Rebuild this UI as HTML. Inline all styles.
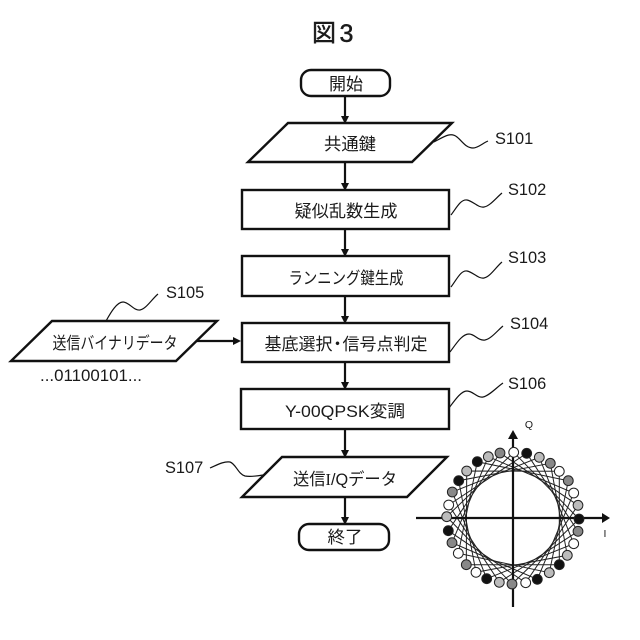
<!DOCTYPE html>
<html><head><meta charset="utf-8"><style>
html,body{margin:0;padding:0;background:#fff}
svg{display:block}
text{font-family:"Liberation Sans","Noto Sans CJK JP",sans-serif;fill:#1a1a1a}
.s{fill:#fff;stroke:#111;stroke-width:2.4;stroke-linejoin:miter}
.l{fill:none;stroke:#111;stroke-width:1.2}
.a{stroke:#111;stroke-width:2.2}
.c{font-size:17px;text-anchor:middle}
.n{font-size:16.4px}
.q{fill:none;stroke:#222;stroke-width:1}
.d{stroke:#222;stroke-width:1}
.w{fill:#fff}.g{fill:#888}.h{fill:#bbb}.b{fill:#111}
</style></head><body>
<svg width="640" height="640" viewBox="0 0 640 640" xmlns="http://www.w3.org/2000/svg">
<text x="312" y="41" font-size="24" stroke="#1a1a1a" stroke-width="0.5">図<tspan x="339.5" y="42" font-size="25">3</tspan></text>

<!-- connectors -->
<g class="a">
<line x1="345" y1="96" x2="345" y2="118"/>
<line x1="345" y1="162" x2="345" y2="185"/>
<line x1="345" y1="229" x2="345" y2="251"/>
<line x1="345" y1="296" x2="345" y2="318"/>
<line x1="345" y1="362" x2="345" y2="384"/>
<line x1="345" y1="429" x2="345" y2="452"/>
<line x1="345" y1="497" x2="345" y2="519"/>
<line x1="197" y1="341" x2="235" y2="341"/>
</g>
<g fill="#111">
<polygon points="341,116 349,116 345,124"/>
<polygon points="341,183 349,183 345,191"/>
<polygon points="341,249 349,249 345,257"/>
<polygon points="341,316 349,316 345,324"/>
<polygon points="341,382 349,382 345,390"/>
<polygon points="341,450 349,450 345,458"/>
<polygon points="341,517 349,517 345,525"/>
<polygon points="233,337 233,345 241,341"/>
</g>

<!-- nodes -->
<rect class="s" x="301" y="70" width="89" height="26" rx="10"/>
<polygon class="s" points="288,123 452,123 412,162 248,162"/>
<rect class="s" x="242" y="190" width="207" height="39"/>
<rect class="s" x="242" y="256" width="207" height="40"/>
<rect class="s" x="242" y="323" width="207" height="39"/>
<rect class="s" x="241" y="389" width="208" height="40"/>
<polygon class="s" points="282,457 447,457 407,497 242,497"/>
<rect class="s" x="299" y="524" width="90" height="26" rx="10"/>
<polygon class="s" points="52,321 217,321 176,361 11,361"/>

<!-- node labels -->
<text class="c" x="346" y="90" textLength="34" lengthAdjust="spacingAndGlyphs">開始</text>
<text class="c" x="350" y="150" textLength="52" lengthAdjust="spacingAndGlyphs">共通鍵</text>
<text class="c" x="346" y="217" textLength="103" lengthAdjust="spacingAndGlyphs">疑似乱数生成</text>
<text class="c" x="346" y="284" textLength="115" lengthAdjust="spacingAndGlyphs">ランニング鍵生成</text>
<text class="c" x="346" y="350">基底選択<tspan dx="-3.5">・</tspan><tspan dx="-3.5">信号点判定</tspan></text>
<text class="c" x="345" y="417" textLength="120" lengthAdjust="spacingAndGlyphs">Y-00QPSK変調</text>
<text class="c" x="345" y="485" textLength="104" lengthAdjust="spacingAndGlyphs">送信<tspan font-family="Liberation Serif">I</tspan>/Qデータ</text>
<text class="c" x="345" y="543" textLength="35" lengthAdjust="spacingAndGlyphs">終了</text>
<text class="c" x="115" y="349" textLength="125" lengthAdjust="spacingAndGlyphs">送信バイナリデータ</text>
<text class="n" x="40" y="381" textLength="102" lengthAdjust="spacingAndGlyphs">...01100101...</text>

<!-- step labels and leaders -->
<text class="n" x="495" y="144">S101</text>
<text class="n" x="508" y="195">S102</text>
<text class="n" x="508" y="263">S103</text>
<text class="n" x="510" y="329">S104</text>
<text class="n" x="166" y="298">S105</text>
<text class="n" x="508" y="389">S106</text>
<text class="n" x="165" y="473">S107</text>
<path class="l" d="M434,142 C445,136 451,132 457,137 C463,142 466,148 473,148 C478,148 483,143 488,141"/>
<path class="l" d="M451,215 C457,207 461,199 467,200 C473,201 478,208 484,207 C490,206 496,198 502,193"/>
<path class="l" d="M451,287 C457,279 461,270 467,271 C473,272 478,279 484,278 C490,277 496,267 502,262"/>
<path class="l" d="M450,352 C456,344 462,334 469,334 C475,334 478,341 485,340 C491,339 498,330 503,326"/>
<path class="l" d="M449,408 C455,400 461,391 467,391 C473,391 477,398 483,397 C489,396 497,387 503,383"/>
<path class="l" d="M106,321 C111,312 117,302 123,302 C129,302 134,311 140,310 C146,309 152,299 158,294"/>
<path class="l" d="M210,468 C217,465 224,461 230,462 C236,464 238,474 245,476 C250,477 257,476 263,475"/>

<!-- constellation chords: eight squares linking every 8th point -->
<g class="q">
<polygon points="513.7,452.3 579,519 512,584 446.7,516.7"/>
<polygon points="526.7,453.3 578,531.3 499.3,582.3 448.7,505"/>
<polygon points="539.3,457.3 573.7,543.7 486.7,578.7 452.3,492"/>
<polygon points="550.3,463.3 567.3,555.3 476,572.3 458.7,480.7"/>
<polygon points="559.3,471.3 559.3,564.7 466.3,564.7 466.7,471"/>
<polygon points="568.3,480.7 549.3,572.7 458.3,553.3 477.3,461.7"/>
<polygon points="573.7,493 537.3,579.3 452,542.7 488.3,456.7"/>
<polygon points="578,505.3 525.7,582.7 448.3,530.7 500,453"/>
</g>

<!-- axes -->
<g class="a">
<line x1="416" y1="518" x2="604" y2="518"/>
<line x1="513" y1="607" x2="513" y2="436"/>
</g>
<polygon fill="#111" points="602,513 610,518 602,523"/>
<polygon fill="#111" points="508,439 518,439 513,430"/>
<text x="529" y="428" font-size="10.5" text-anchor="middle">Q</text>
<text x="605" y="537" font-size="10.5" text-anchor="middle">I</text>

<!-- constellation points -->
<g class="d">
<circle class="w" cx="513.7" cy="452.3" r="4.9"/>
<circle class="b" cx="526.7" cy="453.3" r="4.9"/>
<circle class="h" cx="539.3" cy="457.3" r="4.9"/>
<circle class="g" cx="550.3" cy="463.3" r="4.9"/>
<circle class="w" cx="559.3" cy="471.3" r="4.9"/>
<circle class="g" cx="568.3" cy="480.7" r="4.9"/>
<circle class="w" cx="573.7" cy="493" r="4.9"/>
<circle class="h" cx="578" cy="505.3" r="4.9"/>
<circle class="b" cx="579" cy="519" r="4.9"/>
<circle class="g" cx="578" cy="531.3" r="4.9"/>
<circle class="w" cx="573.7" cy="543.7" r="4.9"/>
<circle class="h" cx="567.3" cy="555.3" r="4.9"/>
<circle class="b" cx="559.3" cy="564.7" r="4.9"/>
<circle class="h" cx="549.3" cy="572.7" r="4.9"/>
<circle class="b" cx="537.3" cy="579.3" r="4.9"/>
<circle class="w" cx="525.7" cy="582.7" r="4.9"/>
<circle class="g" cx="512" cy="584" r="4.9"/>
<circle class="h" cx="499.3" cy="582.3" r="4.9"/>
<circle class="b" cx="486.7" cy="578.7" r="4.9"/>
<circle class="w" cx="476" cy="572.3" r="4.9"/>
<circle class="g" cx="466.3" cy="564.7" r="4.9"/>
<circle class="w" cx="458.3" cy="553.3" r="4.9"/>
<circle class="g" cx="452" cy="542.7" r="4.9"/>
<circle class="b" cx="448.3" cy="530.7" r="4.9"/>
<circle class="h" cx="446.7" cy="516.7" r="4.9"/>
<circle class="w" cx="448.7" cy="505" r="4.9"/>
<circle class="g" cx="452.3" cy="492" r="4.9"/>
<circle class="b" cx="458.7" cy="480.7" r="4.9"/>
<circle class="h" cx="466.7" cy="471" r="4.9"/>
<circle class="b" cx="477.3" cy="461.7" r="4.9"/>
<circle class="h" cx="488.3" cy="456.7" r="4.9"/>
<circle class="g" cx="500" cy="453" r="4.9"/>
</g>
</svg>
</body></html>
